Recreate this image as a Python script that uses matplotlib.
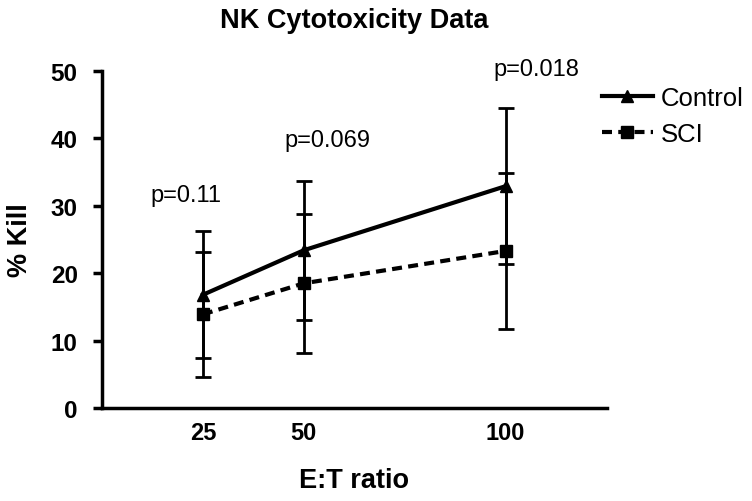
import matplotlib.pyplot as plt

plt.rcParams['font.family'] = ['Liberation Sans', 'DejaVu Sans']

# E:T ratios and % kill (mean +/- error)
et_ratio = [25, 50, 100]
control_kill = [16.8, 23.4, 32.9]
control_err = [9.4, 10.3, 11.6]
sci_kill = [13.9, 18.5, 23.3]
sci_err = [9.3, 10.3, 11.5]

p_labels = ['p=0.11', 'p=0.069', 'p=0.018']
p_x = [20.8, 55.9, 107.6]
p_y = [31.6, 39.8, 50.2]

fig = plt.figure(figsize=(7.52, 5.02), dpi=100)
ax = fig.add_axes([0.1356, 0.185, 0.671, 0.672])

ax.errorbar(et_ratio, control_kill, yerr=control_err, color='black', lw=3,
            marker='^', markersize=9, capsize=6, elinewidth=2, capthick=2,
            label='Control')
ax.errorbar(et_ratio, sci_kill, yerr=sci_err, color='black', lw=3, ls=(0, (2.4, 1.5)),
            marker='s', markersize=8, capsize=6, elinewidth=2, capthick=2,
            label='SCI')

for txt, x, y in zip(p_labels, p_x, p_y):
    ax.text(x, y, txt, ha='center', va='center', fontsize=17, clip_on=False)

ax.set_xlim(0, 125)
ax.set_ylim(0, 50)
ax.set_xticks(et_ratio)
ax.set_yticks([0, 10, 20, 30, 40, 50])
ax.tick_params(axis='x', length=0, pad=9, labelsize=17)
ax.tick_params(axis='y', length=6.5, width=2.5, labelsize=17.5, pad=11)
for lab in ax.get_xticklabels() + ax.get_yticklabels():
    lab.set_fontweight('bold')

for side in ['top', 'right']:
    ax.spines[side].set_visible(False)
for side in ['left', 'bottom']:
    ax.spines[side].set_linewidth(2.5)

ax.set_xlabel('E:T ratio', fontsize=19.5, fontweight='bold', va='center')
ax.xaxis.set_label_coords(0.5, -0.214)
ax.set_ylabel('% Kill', fontsize=19.5, fontweight='bold', va='center')
ax.yaxis.set_label_coords(-0.162, 0.5)

fig.text(0.4705, 0.958, 'NK Cytotoxicity Data', ha='center', va='center',
         fontsize=19.5, fontweight='bold')

handles, labels = ax.get_legend_handles_labels()
handles = [h[0] for h in handles]
fig.legend(handles, labels, loc='upper left', bbox_to_anchor=(0.8, 0.826),
           frameon=False, fontsize=18.5, handlelength=2.0, handletextpad=0.32,
           labelspacing=0.45, borderpad=0, borderaxespad=0)

fig.savefig('out.png', dpi=100)
